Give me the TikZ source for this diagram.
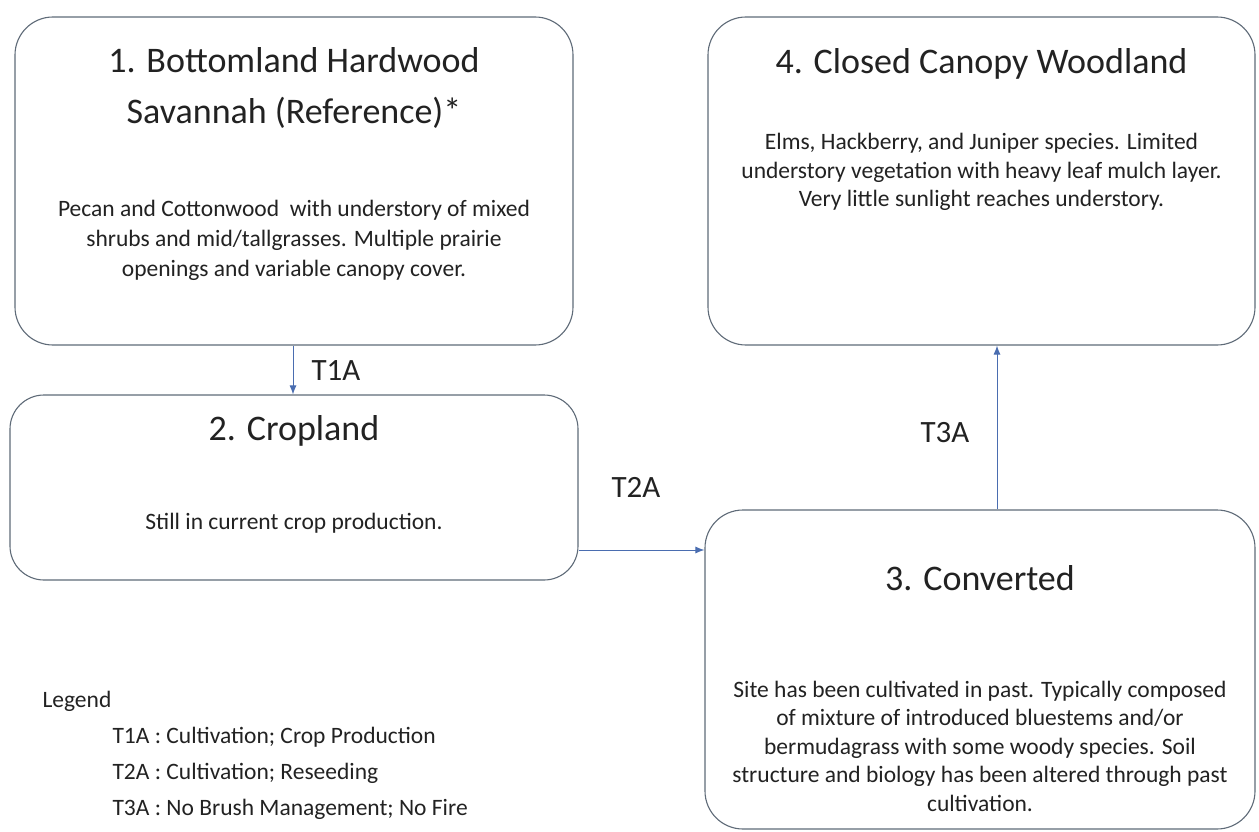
\documentclass[tikz,border=0pt]{standalone}
\usepackage{fontspec}
\setmainfont{Carlito}
\usetikzlibrary{arrows.meta}
\definecolor{boxline}{HTML}{5F6B78}
\definecolor{arrowblue}{HTML}{4A6DB0}
\definecolor{txt}{HTML}{222222}
\begin{document}
\begin{tikzpicture}[x=1pt,y=-1pt,
  statebox/.style={draw=boxline,line width=1.1pt,rounded corners=38pt,inner sep=0pt,fill=white},
  titletext/.style={text=txt,font=\fontsize{36}{44}\selectfont,align=center},
  bodytext/.style={text=txt,font=\fontsize{23.5}{28.5}\selectfont,align=center},
  trlabel/.style={text=txt,font=\fontsize{31}{36}\selectfont},
  legendtext/.style={text=txt,font=\fontsize{23.5}{27}\selectfont,anchor=west},
  trarrow/.style={draw=arrowblue,line width=1pt,-{Latex[length=9pt,width=7pt]}}]
\useasboundingbox (0,0) rectangle (1259,832);
% boxes
\node[statebox,minimum width=558pt,minimum height=328pt] (b1) at (294,181) {};
\node[statebox,minimum width=568pt,minimum height=185pt,rounded corners=34pt] (b2) at (294,487.5) {};
\node[statebox,minimum width=550pt,minimum height=319pt] (b3) at (980,669.5) {};
\node[statebox,minimum width=547pt,minimum height=328pt] (b4) at (981.5,181) {};
% titles
\node[titletext] (t1) at (294,88) {1. Bottomland Hardwood\\[7pt]Savannah (Reference)*};
\node[titletext] (t2) at (294,431) {2. Cropland};
\node[titletext] (t3) at (980,578) {3. Converted};
\node[titletext] (t4) at (981.5,64) {4. Closed Canopy Woodland};
% bodies
\node[bodytext] (d1) at (294,240) {Pecan and Cottonwood\ \ with understory of mixed\\[1.5pt]shrubs and mid/tallgrasses. Multiple prairie\\[1.5pt]openings and variable canopy cover.};
\node[bodytext] (d2) at (294,523) {Still in current crop production.};
\node[bodytext] (d3) at (980,746) {Site has been cultivated in past. Typically composed\\of mixture of introduced bluestems and/or\\bermudagrass with some woody species. Soil\\structure and biology has been altered through past\\cultivation.};
\node[bodytext] (d4) at (981.5,172) {Elms, Hackberry, and Juniper species. Limited\\understory vegetation with heavy leaf mulch layer.\\Very little sunlight reaches understory.};
% arrows
\draw[trarrow] (b1.south -| 293,0) -- (b2.north -| 293,0);
\draw[trarrow] (b2.east |- 0,550) -- (b3.west |- 0,550);
\draw[trarrow] (b3.north -| 997,0) -- (b4.south -| 997,0);
% transition labels
\node[trlabel] (l1) at (336,371) {T1A};
\node[trlabel] (l2) at (636,487) {T2A};
\node[trlabel] (l3) at (945,433) {T3A};
% legend
\node[legendtext] (lg) at (39,701) {Legend};
\node[legendtext] (lg1) at (109,737) {T1A : Cultivation; Crop Production};
\node[legendtext] (lg2) at (109,773) {T2A : Cultivation; Reseeding};
\node[legendtext] (lg3) at (109,809) {T3A : No Brush Management; No Fire};
\end{tikzpicture}
\end{document}
